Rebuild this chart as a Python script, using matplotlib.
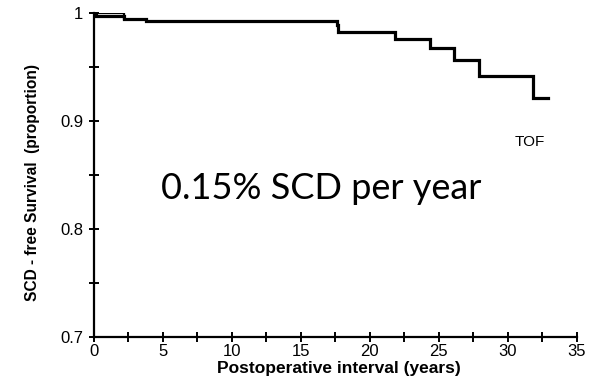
import matplotlib
matplotlib.use("Agg")
import matplotlib.pyplot as plt
from matplotlib.ticker import MultipleLocator

# Kaplan-Meier style step data (years, survival proportion)
years = [0, 0.15, 2.2, 3.8, 17.6, 17.7, 21.8, 24.4, 26.1, 27.9, 31.8, 32.9]
survival = [1.0, 0.9965, 0.994, 0.992, 0.989, 0.982, 0.9756, 0.967, 0.956, 0.941, 0.9207, 0.9207]
# second short trace at the start of the curve
years_b = [0, 2.2]
survival_b = [1.0, 0.994]

x_ticks = [0, 5, 10, 15, 20, 25, 30, 35]
x_tick_labels = ["0", "5", "10", "15", "20", "25", "30", "35"]
y_ticks = [0.7, 0.8, 0.9, 1.0]
y_tick_labels = ["0.7", "0.8", "0.9", "1"]

plt.rcParams['font.family'] = ['Liberation Sans', 'DejaVu Sans']

fig = plt.figure(figsize=(5.93, 3.88), dpi=100)
ax = fig.add_axes([0.158, 0.1322, 0.8145, 0.8351])

ax.plot(years, survival, drawstyle='steps-post', color='black', lw=2.3, solid_joinstyle='miter')
ax.plot(years_b, survival_b, drawstyle='steps-post', color='black', lw=1.6, solid_joinstyle='miter')

ax.set_xlim(0, 35)
ax.set_ylim(0.7, 1.0)
ax.spines['top'].set_visible(False)
ax.spines['right'].set_visible(False)
for s in ('left', 'bottom'):
    ax.spines[s].set_linewidth(1.6)

ax.set_xticks(x_ticks)
ax.set_xticklabels(x_tick_labels)
ax.set_yticks(y_ticks)
ax.set_yticklabels(y_tick_labels)
ax.xaxis.set_minor_locator(MultipleLocator(2.5))
ax.yaxis.set_minor_locator(MultipleLocator(0.05))
ax.tick_params(which='both', direction='inout', length=7, width=1.4, labelsize=12)
ax.tick_params(axis='x', which='both', pad=1.5)
ax.tick_params(axis='y', which='both', pad=4)

ax.set_xlabel("Postoperative interval (years)", fontsize=12.5, fontweight='bold', va='center')
ax.xaxis.set_label_coords(0.508, -0.097)
ax.set_ylabel("SCD - free Survival  (proportion)", fontsize=11.2, fontweight='bold', va='center')
ax.yaxis.set_label_coords(-0.126, 0.477)

ax.text(0.903, 0.601, "TOF", transform=ax.transAxes, ha='center', va='center', fontsize=11)
ax.text(0.47, 0.425, "0.15% SCD per year", transform=ax.transAxes, ha='center', va='baseline',
        fontsize=26, family=['Lato', 'DejaVu Sans'])

fig.savefig("out.png", dpi=100)
